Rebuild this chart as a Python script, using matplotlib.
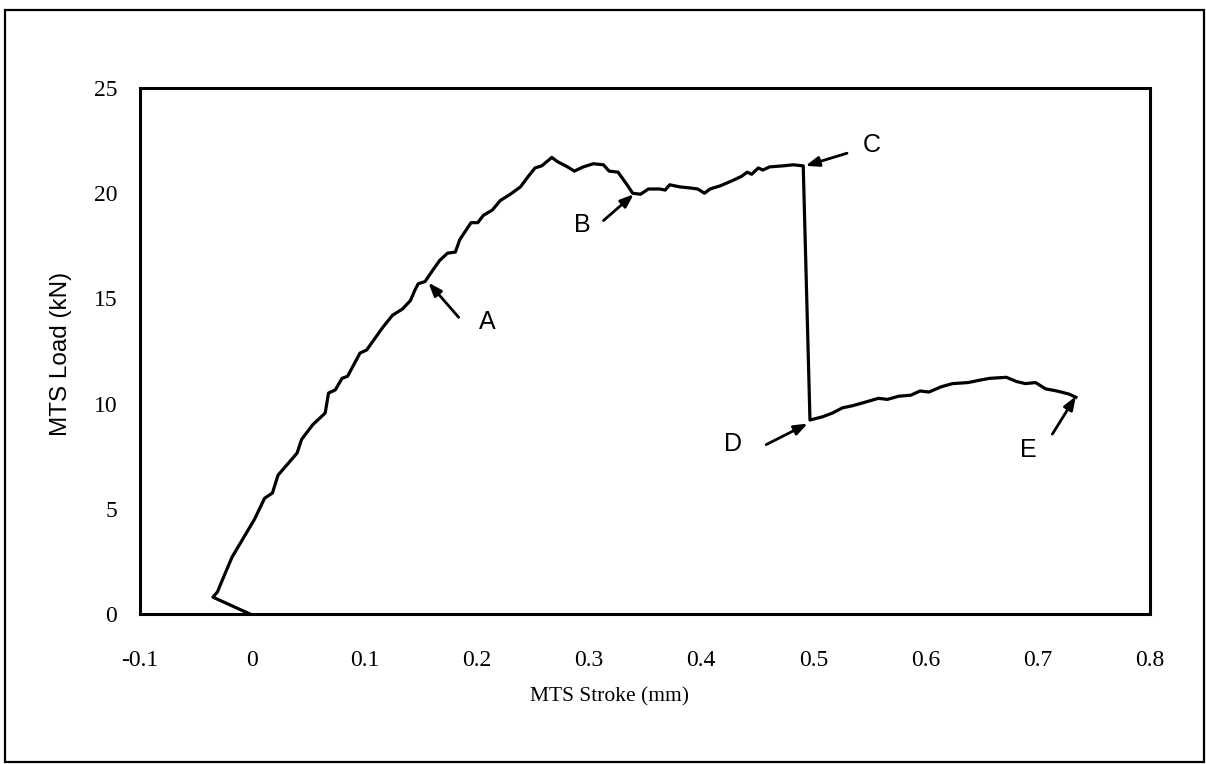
'''
load vs stroke curve of the MTS test, with the points A-E marked.
'''

import matplotlib
matplotlib.use("Agg")
import matplotlib.pyplot as plt
from matplotlib.patches import Rectangle


# curve (stroke in mm, load in kN).
stroke_mm = [
    -0.002, -0.035, -0.031, -0.024, -0.018, 0.002, 0.011, 0.018, 0.023, 0.040,
    0.044, 0.054, 0.065, 0.068, 0.074, 0.080, 0.085, 0.096, 0.102, 0.116,
    0.125, 0.134, 0.141, 0.145, 0.148, 0.154, 0.161, 0.167, 0.174, 0.181,
    0.185, 0.190, 0.195, 0.201, 0.206, 0.214, 0.221, 0.230, 0.239, 0.246,
    0.252, 0.258, 0.267, 0.272, 0.281, 0.287, 0.295, 0.304, 0.313, 0.318,
    0.326, 0.334, 0.339, 0.346, 0.353, 0.363, 0.368, 0.372, 0.381, 0.390,
    0.397, 0.403, 0.408, 0.417, 0.428, 0.436, 0.441, 0.445, 0.451, 0.455,
    0.461, 0.473, 0.482, 0.491,
    0.497, 0.508, 0.517, 0.526, 0.535, 0.545, 0.558, 0.566, 0.576, 0.587,
    0.595, 0.603, 0.614, 0.624, 0.638, 0.647, 0.657, 0.672, 0.681, 0.689,
    0.698, 0.707, 0.717, 0.728, 0.734,
]
load_kn = [
    0.0, 0.8, 1.05, 1.95, 2.7, 4.5, 5.5, 5.75, 6.6, 7.65,
    8.3, 9.0, 9.55, 10.5, 10.65, 11.2, 11.3, 12.4, 12.55, 13.6,
    14.2, 14.5, 14.9, 15.4, 15.7, 15.8, 16.35, 16.8, 17.15, 17.2,
    17.8, 18.2, 18.6, 18.6, 18.95, 19.2, 19.65, 19.95, 20.3, 20.8,
    21.2, 21.3, 21.7, 21.5, 21.25, 21.05, 21.25, 21.4, 21.35, 21.05,
    21.0, 20.4, 20.0, 19.95, 20.2, 20.2, 20.15, 20.4, 20.3, 20.25,
    20.2, 20.0, 20.2, 20.35, 20.6, 20.8, 21.0, 20.9, 21.2, 21.1,
    21.25, 21.3, 21.35, 21.3,
    9.22, 9.37, 9.55, 9.8, 9.9, 10.05, 10.25, 10.2, 10.35, 10.4,
    10.6, 10.55, 10.8, 10.95, 11.0, 11.1, 11.2, 11.25, 11.05, 10.95,
    11.0, 10.7, 10.6, 10.45, 10.3,
]

# marked points: letter, letter position, arrow tail, arrow tip.
point_labels = ["A", "B", "C", "D", "E"]
label_xy = [(0.209, 13.9), (0.294, 18.5), (0.552, 22.3), (0.428, 8.1), (0.692, 7.8)]
arrow_tail = [(0.184, 14.1), (0.313, 18.7), (0.530, 21.9), (0.458, 8.05), (0.713, 8.55)]
arrow_tip = [(0.157, 15.75), (0.340, 19.95), (0.493, 21.3), (0.495, 9.05), (0.734, 10.35)]

x_ticks = [-0.1, 0, 0.1, 0.2, 0.3, 0.4, 0.5, 0.6, 0.7, 0.8]
y_ticks = [0, 5, 10, 15, 20, 25]

W, H = 1206, 764
fig = plt.figure(figsize=(W / 100, H / 100), dpi=100)
ax = fig.add_axes([140 / W, 1 - 614 / H, 1010 / W, 526 / H])

ax.plot(stroke_mm, load_kn, color="black", lw=2.3, solid_joinstyle="round")

ax.set_xlim(-0.1, 0.8)
ax.set_ylim(0, 25)
ax.set_xticks(x_ticks)
ax.set_xticklabels(["-0.1", "0"] + [f"{t:.1f}" for t in x_ticks[2:]])
ax.set_yticks(y_ticks)
ax.tick_params(length=0)
ax.tick_params(axis="x", pad=26)
ax.tick_params(axis="y", pad=16.5)
for lab in ax.get_xticklabels() + ax.get_yticklabels():
    lab.set_fontfamily("Liberation Serif")
    lab.set_fontsize(17)
for sp in ax.spines.values():
    sp.set_linewidth(2.2)

# letters and their arrows.
for name, txt, tail, tip in zip(point_labels, label_xy, arrow_tail, arrow_tip):
    ax.text(txt[0], txt[1], name, family="Liberation Sans", fontsize=18,
            ha="center", va="center")
    ax.annotate("", xy=tip, xytext=tail,
                arrowprops=dict(arrowstyle="-|>,head_length=0.8,head_width=0.3",
                                color="black", lw=2, shrinkA=0, shrinkB=0))

# axis labels placed as in the picture.
fig.text(610 / W, 1 - 697 / H, "MTS Stroke (mm)", family="Liberation Serif",
         fontsize=15.5, ha="center", va="center")
fig.text(61 / W, 1 - 354 / H, "MTS Load (kN)", family="Liberation Sans",
         fontsize=17.5, rotation=90, ha="center", va="center")

# outer frame round the whole figure.
fig.patches.append(Rectangle((5 / W, 2 / H), 1199 / W, 752 / H, transform=fig.transFigure,
                             fill=False, lw=1.6, color="black"))

fig.savefig("out.png", dpi=100)
